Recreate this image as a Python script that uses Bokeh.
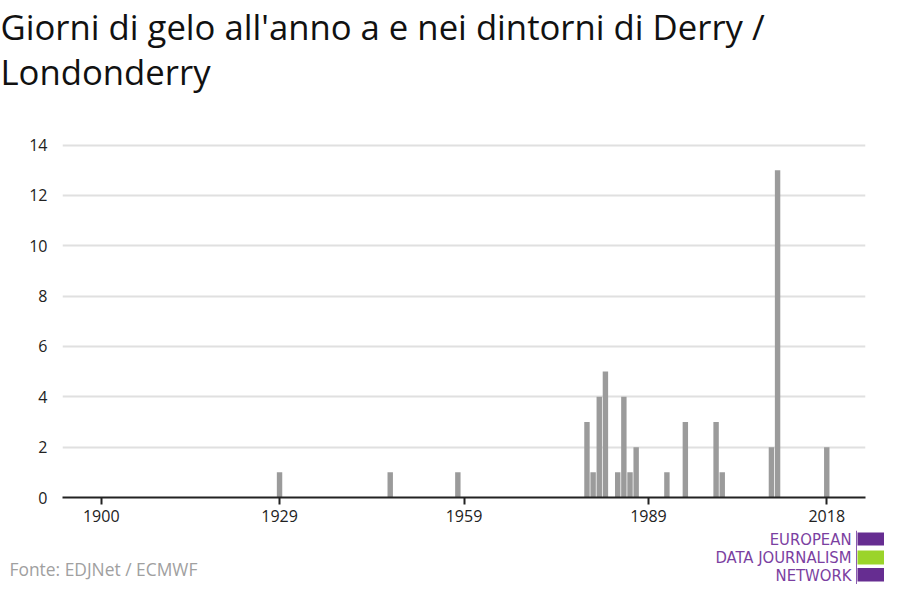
from bokeh.plotting import figure
from bokeh.layouts import column
from bokeh.models import Range1d, FixedTicker, ColumnDataSource
from bokeh.core.properties import value
from bokeh.embed import file_html
from bokeh.resources import INLINE

# ---- data ----
years = [1929, 1947, 1958, 1979, 1980, 1981, 1982, 1984, 1985, 1986, 1987,
         1992, 1995, 2000, 2001, 2009, 2010, 2018]
frost_days = [1, 1, 1, 3, 1, 4, 5, 1, 4, 1, 2,
              1, 3, 3, 1, 2, 13, 2]
x_ticks = [1900, 1929, 1959, 1989, 2018]
y_ticks = [0, 2, 4, 6, 8, 10, 12, 14]
title_lines = ["Giorni di gelo all'anno a e nei dintorni di Derry /", "Londonderry"]
source_text = "Fonte: EDJNet / ECMWF"
logo_lines = ["EUROPEAN", "DATA JOURNALISM", "NETWORK"]

FONT = "Open Sans"
W = 884


def blank(height, y_top, y_bottom):
    f = figure(width=W, height=height, x_range=Range1d(0, W),
               y_range=Range1d(y_bottom, y_top),
               output_backend="svg", toolbar_location=None,
               x_axis_location=None, y_axis_location=None,
               min_border=0, min_border_left=0, min_border_right=0,
               min_border_top=0, min_border_bottom=0)
    f.grid.visible = False
    f.outline_line_color = None
    f.background_fill_color = "white"
    f.border_fill_color = "white"
    f.frame_align = False
    return f


# ---- title panel (canvas y 0..134) ----
top = blank(134, 0, 134)
top.text(x=[0, 0], y=[26, 71], text=title_lines,
         text_font=value(FONT), text_font_size="34.7px",
         text_color="#111111", text_baseline="alphabetic", text_align="left")

# ---- main chart (canvas y 134..530) ----
p = figure(width=W, height=396,
           x_range=Range1d(1893.7, 2024.3), y_range=Range1d(0, 14.1),
           output_backend="svg", toolbar_location=None,
           min_border_left=62, min_border_right=19,
           min_border_top=8, min_border_bottom=33)
p.outline_line_color = None
p.background_fill_color = "white"
p.border_fill_color = "white"
p.frame_align = False

src = ColumnDataSource(dict(year=years, days=frost_days))
p.vbar(x="year", top="days", width=0.88, source=src,
       fill_color="#9b9b9b", line_color=None)

p.xgrid.grid_line_color = None
p.ygrid.grid_line_color = "#e0e0e0"
p.ygrid.grid_line_width = 2
p.ygrid.ticker = FixedTicker(ticks=y_ticks)

xa = p.xaxis[0]
xa.ticker = FixedTicker(ticks=x_ticks)
xa.axis_line_color = "#222222"
xa.axis_line_width = 2
xa.major_tick_line_color = "#222222"
xa.major_tick_line_width = 2
xa.major_tick_out = 7
xa.major_tick_in = 0
xa.minor_tick_line_color = None
xa.major_label_text_font = FONT
xa.major_label_text_font_size = "16px"
xa.major_label_text_color = "#222222"
xa.major_label_standoff = 5

ya = p.yaxis[0]
ya.ticker = FixedTicker(ticks=y_ticks)
ya.axis_line_color = None
ya.major_tick_line_color = None
ya.minor_tick_line_color = None
ya.major_tick_out = 0
ya.major_tick_in = 0
ya.major_label_text_font = FONT
ya.major_label_text_font_size = "16px"
ya.major_label_text_color = "#222222"
ya.major_label_standoff = 15

# ---- bottom panel: source + logo (canvas y 530..584) ----
bot = blank(54, 530, 584)
bot.text(x=[9], y=[568], text=[source_text],
         text_font=value(FONT), text_font_size="17.4px",
         text_color="#a0a0a0", text_baseline="alphabetic", text_align="left")
bot.text(x=[851, 851, 851], y=[539, 557, 575], text=logo_lines,
         text_font=value("DejaVu Sans Condensed"), text_font_size="16.5px",
         text_color="#7b3fa1", text_baseline="alphabetic", text_align="right")
bot.quad(left=[855.5], right=[856.5], top=[530], bottom=[584],
         fill_color="#8a5cb0", line_color=None)
bot.quad(left=[857, 857, 857], right=[884, 885, 884],
         top=[532, 550, 567.5], bottom=[545, 564, 581],
         fill_color=["#662d91", "#9bd42a", "#662d91"], line_color=None)

layout = column(top, p, bot, spacing=0)
open("out.html", "w").write(file_html(layout, INLINE))
